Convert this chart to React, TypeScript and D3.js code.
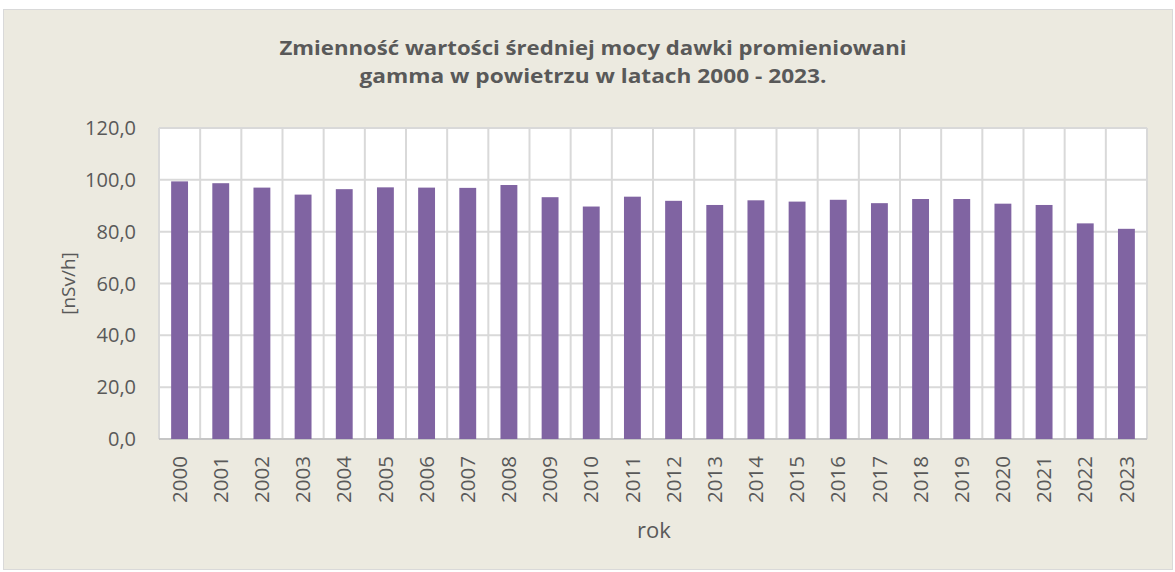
import React, { useEffect, useRef } from "react";
import * as d3 from "d3";

const years = ["2000","2001","2002","2003","2004","2005","2006","2007","2008","2009","2010","2011","2012","2013","2014","2015","2016","2017","2018","2019","2020","2021","2022","2023"];
const values = [99.4, 98.7, 97.0, 94.3, 96.4, 97.1, 97.0, 96.9, 98.0, 93.3, 89.7, 93.5, 91.9, 90.3, 92.1, 91.6, 92.3, 91.0, 92.6, 92.6, 90.8, 90.3, 83.2, 81.1];
const yTicks = [0, 20, 40, 60, 80, 100, 120];
const titleLines = ["Zmienność wartości średniej mocy dawki promieniowani", "gamma w powietrzu w latach 2000 - 2023."];
const yTitle = "[nSv/h]";
const xTitle = "rok";

const W = 1175, H = 572;
const M = { left: 159, right: 1147, top: 128, bottom: 439 };
const FONT = "'Open Sans', 'Liberation Sans', sans-serif";
const TXT = "#595959";

export default function App() {
  const ref = useRef<SVGSVGElement>(null);
  useEffect(() => {
    const svg = d3.select(ref.current);
    svg.selectAll("*").remove();
    svg.append("rect").attr("x", 3.5).attr("y", 9.5).attr("width", W - 6).attr("height", H - 12)
      .attr("fill", "#ECEAE0").attr("stroke", "#D9D9D9");

    const x = d3.scaleBand().domain(years).range([M.left, M.right]).paddingInner(0.59).paddingOuter(0.295);
    const xCat = d3.scaleBand().domain(years).range([M.left, M.right]);
    const y = d3.scaleLinear().domain([0, 120]).range([M.bottom, M.top]);

    svg.append("rect").attr("x", M.left).attr("y", M.top).attr("width", M.right - M.left).attr("height", M.bottom - M.top).attr("fill", "#fff");

    const g = svg.append("g");
    g.selectAll("line.h").data(yTicks).join("line")
      .attr("x1", M.left).attr("x2", M.right).attr("y1", d => y(d)).attr("y2", d => y(d))
      .attr("stroke", "#D9D9D9").attr("stroke-width", 2);
    g.selectAll("line.v").data(years).join("line")
      .attr("x1", (d, i) => M.left + xCat.step() * (i + 1)).attr("x2", (d, i) => M.left + xCat.step() * (i + 1))
      .attr("y1", M.top).attr("y2", M.bottom)
      .attr("stroke", "#D9D9D9").attr("stroke-width", 2);
    g.append("line").attr("x1", M.left).attr("x2", M.left).attr("y1", M.top).attr("y2", M.bottom).attr("stroke", "#D9D9D9").attr("stroke-width", 2);
    g.append("line").attr("x1", M.left).attr("x2", M.right).attr("y1", M.bottom).attr("y2", M.bottom).attr("stroke", "#BFBFBF").attr("stroke-width", 1.5);

    svg.selectAll("rect.bar").data(values).join("rect").attr("class", "bar")
      .attr("x", (d, i) => x(years[i])!).attr("width", x.bandwidth())
      .attr("y", d => y(d)).attr("height", d => y(0) - y(d))
      .attr("fill", "#8064A2");

    svg.selectAll("text.yt").data(yTicks).join("text").attr("class", "yt")
      .attr("x", 136).attr("y", d => y(d)).attr("dy", "0.35em").attr("text-anchor", "end")
      .attr("font-family", FONT).attr("font-size", 20).attr("fill", TXT)
      .text(d => d3.format(".1f")(d).replace(".", ","));

    svg.selectAll("text.xt").data(years).join("text").attr("class", "xt")
      .attr("transform", d => `translate(${xCat(d)! + xCat.bandwidth() / 2},${456}) rotate(-90)`)
      .attr("dy", "0.35em").attr("text-anchor", "end")
      .attr("font-family", FONT).attr("font-size", 20.5).attr("fill", TXT)
      .text(d => d);

    svg.append("text").attr("transform", `translate(68,${(M.top + M.bottom) / 2}) rotate(-90)`)
      .attr("text-anchor", "middle").attr("dy", "0.35em")
      .attr("font-family", FONT).attr("font-size", 19).attr("fill", TXT).text(yTitle);
    svg.append("text").attr("x", 654).attr("y", 538).attr("text-anchor", "middle")
      .attr("font-family", FONT).attr("font-size", 22).attr("fill", TXT).text(xTitle);

    const titleWidths = [627, 467];
    svg.selectAll("text.title").data(titleLines).join("text").attr("class", "title")
      .attr("x", 593).attr("y", (d, i) => 55 + i * 28).attr("text-anchor", "middle")
      .attr("font-family", FONT).attr("font-weight", "bold").attr("font-size", 20).attr("fill", TXT)
      .attr("textLength", (d, i) => titleWidths[i]).attr("lengthAdjust", "spacingAndGlyphs")
      .text(d => d);
  }, []);
  return (
    <svg ref={ref} width={W} height={H} style={{ position: "absolute", left: 0, top: 0 }} />
  );
}
